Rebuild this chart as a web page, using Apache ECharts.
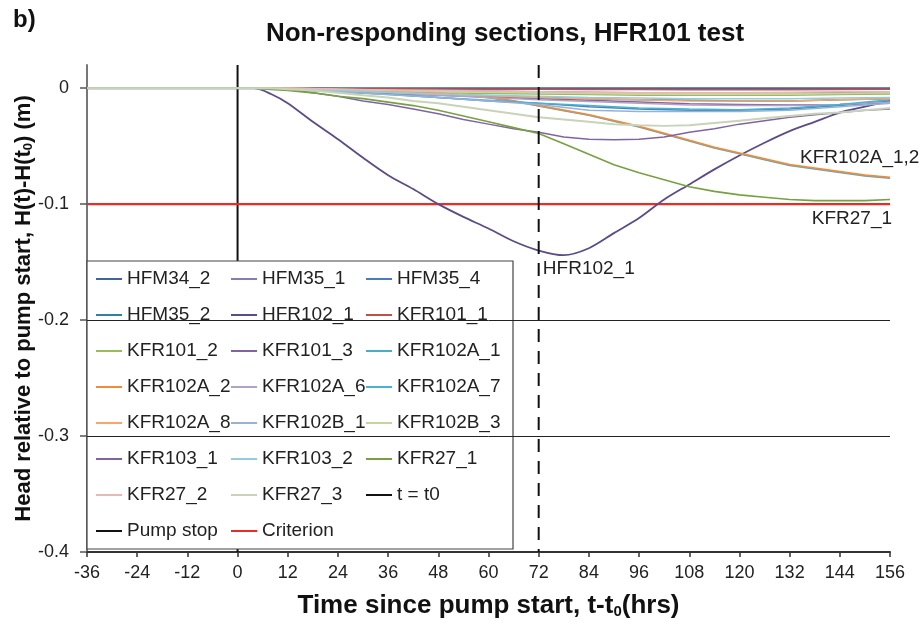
<!DOCTYPE html>
<html>
<head>
<meta charset="utf-8">
<script src="https://cdn.jsdelivr.net/npm/echarts@6/dist/echarts.min.js"></script>
<style>html,body{margin:0;padding:0;background:#fff}#c{width:924px;height:635px}</style>
</head>
<body>
<div id="c"></div>
<script>
// ---- data ----
const hours = [-36, 0, 4, 8, 12, 18, 24, 30, 36, 42, 48, 54, 60, 66, 72, 78, 84, 90, 96, 102, 108, 114, 120, 126, 132, 138, 144, 150, 156];
const hoursCoarse = [-36, 0, 4, 12, 24, 36, 48, 60, 72, 84, 96, 108, 120, 132, 144, 156];
const xTicks = [-36, -24, -12, 0, 12, 24, 36, 48, 60, 72, 84, 96, 108, 120, 132, 144, 156];
const yTicks = [-0.4, -0.3, -0.2, -0.1, 0];

const HFM34_2   = [0,0,0,0,0,0,0,0,0,0,0,0,0,0,0,0];
const HFM35_1   = [0,0,0,-0.0005,-0.001,-0.0015,-0.002,-0.0025,-0.003,-0.0035,-0.004,-0.004,-0.004,-0.004,-0.004,-0.004];
const HFM35_4   = [0,0,0,-0.001,-0.003,-0.005,-0.008,-0.011,-0.013,-0.016,-0.018,-0.019,-0.019,-0.018,-0.015,-0.011];
const HFM35_2   = [0,0,0,-0.0005,-0.002,-0.0035,-0.005,-0.0065,-0.008,-0.009,-0.010,-0.0105,-0.011,-0.011,-0.010,-0.009];
const KFR101_1  = [0,0,0,0,-0.0003,-0.0005,-0.0008,-0.001,-0.001,-0.0012,-0.0012,-0.0013,-0.0013,-0.0013,-0.0012,-0.001];
const KFR101_2  = [0,0,0,-0.0005,-0.002,-0.003,-0.004,-0.0045,-0.005,-0.0055,-0.006,-0.006,-0.006,-0.006,-0.0055,-0.005];
const KFR101_3  = [0,0,0,-0.001,-0.003,-0.0045,-0.006,-0.0075,-0.009,-0.0105,-0.012,-0.0135,-0.014,-0.0145,-0.014,-0.013];
const KFR102A_6 = [0,0,0,-0.0005,-0.002,-0.004,-0.006,-0.008,-0.010,-0.0115,-0.013,-0.0145,-0.015,-0.015,-0.014,-0.012];
const KFR102A_7 = [0,0,0,-0.001,-0.003,-0.0055,-0.008,-0.0105,-0.013,-0.015,-0.017,-0.018,-0.0185,-0.017,-0.014,-0.010];
const KFR102A_8 = [0,0,0,-0.0005,-0.002,-0.0035,-0.005,-0.0065,-0.008,-0.009,-0.010,-0.011,-0.011,-0.011,-0.010,-0.009];
const KFR102B_1 = [0,0,0,-0.001,-0.003,-0.0055,-0.008,-0.011,-0.014,-0.019,-0.020,-0.020,-0.020,-0.019,-0.016,-0.013];
const KFR102B_3 = [0,0,0,0,-0.001,-0.002,-0.003,-0.0035,-0.004,-0.0045,-0.005,-0.005,-0.005,-0.005,-0.0045,-0.004];
const KFR103_2  = [0,0,0,-0.0005,-0.002,-0.0035,-0.005,-0.006,-0.007,-0.008,-0.0085,-0.009,-0.009,-0.009,-0.0085,-0.008];
const KFR27_2   = [0,0,0,0,-0.001,-0.0015,-0.002,-0.0025,-0.003,-0.0035,-0.004,-0.004,-0.004,-0.0035,-0.003,-0.003];

const HFR102_1  = [0,0,0,-0.005,-0.013,-0.029,-0.044,-0.060,-0.075,-0.087,-0.100,-0.111,-0.121,-0.132,-0.140,-0.144,-0.138,-0.125,-0.112,-0.096,-0.083,-0.070,-0.058,-0.047,-0.037,-0.029,-0.021,-0.016,-0.011];
const KFR27_1   = [0,0,0,-0.001,-0.002,-0.004,-0.007,-0.009,-0.012,-0.015,-0.019,-0.024,-0.029,-0.034,-0.039,-0.048,-0.057,-0.066,-0.073,-0.079,-0.085,-0.089,-0.092,-0.094,-0.096,-0.097,-0.097,-0.097,-0.096];
const KFR103_1  = [0,0,0,0,-0.001,-0.004,-0.007,-0.011,-0.014,-0.018,-0.022,-0.027,-0.031,-0.035,-0.038,-0.042,-0.044,-0.0445,-0.044,-0.042,-0.038,-0.035,-0.031,-0.028,-0.025,-0.023,-0.021,-0.019,-0.018];
const KFR27_3   = [0,0,0,0,-0.001,-0.002,-0.004,-0.006,-0.008,-0.011,-0.013,-0.016,-0.019,-0.022,-0.025,-0.027,-0.029,-0.031,-0.032,-0.0325,-0.032,-0.030,-0.028,-0.026,-0.024,-0.022,-0.021,-0.019,-0.017];
const KFR102A_2 = [0,0,0,0,0,-0.0005,-0.001,-0.0015,-0.002,-0.003,-0.004,-0.006,-0.008,-0.011,-0.015,-0.019,-0.023,-0.028,-0.033,-0.039,-0.045,-0.051,-0.056,-0.061,-0.066,-0.069,-0.072,-0.075,-0.077];
const KFR102A_1 = [0,0,0,0,0,-0.0005,-0.001,-0.0015,-0.002,-0.003,-0.0042,-0.0062,-0.0082,-0.0112,-0.0152,-0.0193,-0.0233,-0.0283,-0.0334,-0.0394,-0.0454,-0.0514,-0.0565,-0.0615,-0.0665,-0.0695,-0.0725,-0.0755,-0.0775];

const pumpStartHour = [0];
const pumpStopHour = [72];
const criterionValue = [-0.1];
const gridValues = [-0.2, -0.3];

const FONT = '"Liberation Sans", Arial, sans-serif';

function zip(xs, ys) { return xs.map((x, i) => [x, ys[i]]); }
function mk(name, xs, ys, color, width, extra) {
  return Object.assign({
    name: name, type: 'line', data: zip(xs, ys), color: color,
    showSymbol: false, symbol: 'none', smooth: false, animation: false,
    lineStyle: { color: color, width: width || 1.5 }, z: 3
  }, extra || {});
}
const labelStyle = { color: '#222', fontSize: 19, fontFamily: FONT, position: 'right', distance: 0 };
function note(text, x, y) {
  return { coord: [x, y], symbolSize: 0, label: Object.assign({ show: true, formatter: text }, labelStyle) };
}

const series = [
  mk('HFM34_2', hoursCoarse, HFM34_2, '#41659A', 2),
  mk('HFM35_1', hoursCoarse, HFM35_1, '#8A7AB4', 1.5),
  mk('HFM35_4', hoursCoarse, HFM35_4, '#4A7EBB', 1.5),
  mk('HFM35_2', hoursCoarse, HFM35_2, '#2F8499', 1.5),
  mk('HFR102_1', hours, HFR102_1, '#5B4B8A', 1.8, {
    smooth: 0.3,
    markPoint: { silent: true, data: [note('HFR102_1', 73, -0.1558)] }
  }),
  mk('KFR101_1', hoursCoarse, KFR101_1, '#C0504D', 1.5),
  mk('KFR101_2', hoursCoarse, KFR101_2, '#9BBB59', 1.5),
  mk('KFR101_3', hoursCoarse, KFR101_3, '#8064A2', 1.5),
  mk('KFR102A_1', hours, KFR102A_1, '#4BACC6', 1.8),
  mk('KFR102A_2', hours, KFR102A_2, '#F28A3C', 1.8, {
    markPoint: { silent: true, data: [note('KFR102A_1,2', 134.5, -0.0598)] }
  }),
  mk('KFR102A_6', hoursCoarse, KFR102A_6, '#B3A2C7', 1.5),
  mk('KFR102A_7', hoursCoarse, KFR102A_7, '#46B4D0', 1.5),
  mk('KFR102A_8', hoursCoarse, KFR102A_8, '#F8A66A', 1.5),
  mk('KFR102B_1', hoursCoarse, KFR102B_1, '#95B3D7', 1.5),
  mk('KFR102B_3', hoursCoarse, KFR102B_3, '#C3D69B', 1.5),
  mk('KFR103_1', hours, KFR103_1, '#8064A2', 1.5),
  mk('KFR103_2', hoursCoarse, KFR103_2, '#93CDDD', 1.5),
  mk('KFR27_1', hours, KFR27_1, '#77A040', 1.6, {
    markPoint: { silent: true, data: [note('KFR27_1', 137.3, -0.1127)] }
  }),
  mk('KFR27_2', hoursCoarse, KFR27_2, '#E6B9B8', 1.5),
  mk('KFR27_3', hours, KFR27_3, '#C8D3B8', 2),
  mk('t = t0', [pumpStartHour[0], pumpStartHour[0]], [0.02, -0.4], '#111', 2, { z: 2 }),
  mk('Pump stop', [pumpStopHour[0], pumpStopHour[0]], [0.02, -0.4], '#111', 2, {
    z: 4, lineStyle: { color: '#111', width: 2, type: [13, 9] }
  }),
  mk('Criterion', [-36, 156], [criterionValue[0], criterionValue[0]], '#EE2A24', 2.2, {
    z: 2,
    markLine: {
      silent: true, symbol: 'none', label: { show: false }, animation: false,
      lineStyle: { color: '#222', width: 1, type: 'solid' },
      data: gridValues.map(v => ({ yAxis: v }))
    }
  })
];

const chart = echarts.init(document.getElementById('c'), null, { renderer: 'canvas' });
chart.setOption({
  animation: false,
  backgroundColor: '#fff',
  textStyle: { fontFamily: FONT },
  title: [
    { text: 'b)', left: 8, top: 3, textStyle: { fontSize: 24, fontWeight: 'bold', color: '#111', fontFamily: FONT } },
    { text: 'Non-responding sections, HFR101 test', left: 500, top: 16, textAlign: 'center',
      textStyle: { fontSize: 26, fontWeight: 'bold', color: '#111', fontFamily: FONT } }
  ],
  grid: { left: 87, right: 34, top: 65, bottom: 83, containLabel: false, outerBoundsMode: 'none' },
  xAxis: {
    type: 'value', min: -36, max: 156, interval: 12,
    name: 'Time since pump start, t-t{s|0}(hrs)', nameLocation: 'middle', nameGap: 40, nameMoveOverlap: false,
    nameTextStyle: { fontSize: 26, fontWeight: 'bold', color: '#111', fontFamily: FONT,
      rich: { s: { fontSize: 15, fontWeight: 'bold', color: '#111', fontFamily: FONT, padding: [12, 0, 0, 0] } } },
    axisLine: { show: true, onZero: false, lineStyle: { color: '#333', width: 2 } },
    axisTick: { show: true, length: 5, lineStyle: { color: '#333', width: 1.5 } },
    axisLabel: { fontSize: 18, color: '#222', margin: 12, fontFamily: FONT,
      customValues: xTicks, formatter: v => String(v) },
    splitLine: { show: false }
  },
  yAxis: {
    type: 'value', min: -0.4, max: 0.02, interval: 0.1,
    name: 'Head relative to pump start, H(t)-H(t{s|0}) (m)', nameLocation: 'middle', nameGap: 52, nameRotate: 90,
    nameMoveOverlap: false,
    nameTextStyle: { fontSize: 22, fontWeight: 'bold', color: '#111', fontFamily: FONT,
      rich: { s: { fontSize: 13, fontWeight: 'bold', color: '#111', fontFamily: FONT, padding: [10, 0, 0, 0] } } },
    axisLine: { show: true, onZero: false, lineStyle: { color: '#777', width: 2 } },
    axisTick: { show: true, length: 7, customValues: yTicks, lineStyle: { color: '#555', width: 1.5 } },
    axisLabel: { fontSize: 18, color: '#222', margin: 18, fontFamily: FONT, customValues: yTicks,
      formatter: v => (Math.abs(v) < 1e-9 ? '0' : v.toFixed(1)) },
    splitLine: { show: false }
  },
  legend: {
    show: true, orient: 'horizontal', left: 87, top: 261, width: 406,
    padding: [0, 12, 0, 9], itemGap: 0, itemWidth: 26, itemHeight: 2, icon: 'rect',
    backgroundColor: '#fff', borderColor: '#444', borderWidth: 1.2,
    selectedMode: false,
    textStyle: { fontSize: 19, color: '#222', fontFamily: FONT, width: 104, lineHeight: 36, overflow: 'none', padding: [0, 0, 0, 0] },
    data: series.map(s => s.name)
  },
  series: series
});
</script>
</body>
</html>
